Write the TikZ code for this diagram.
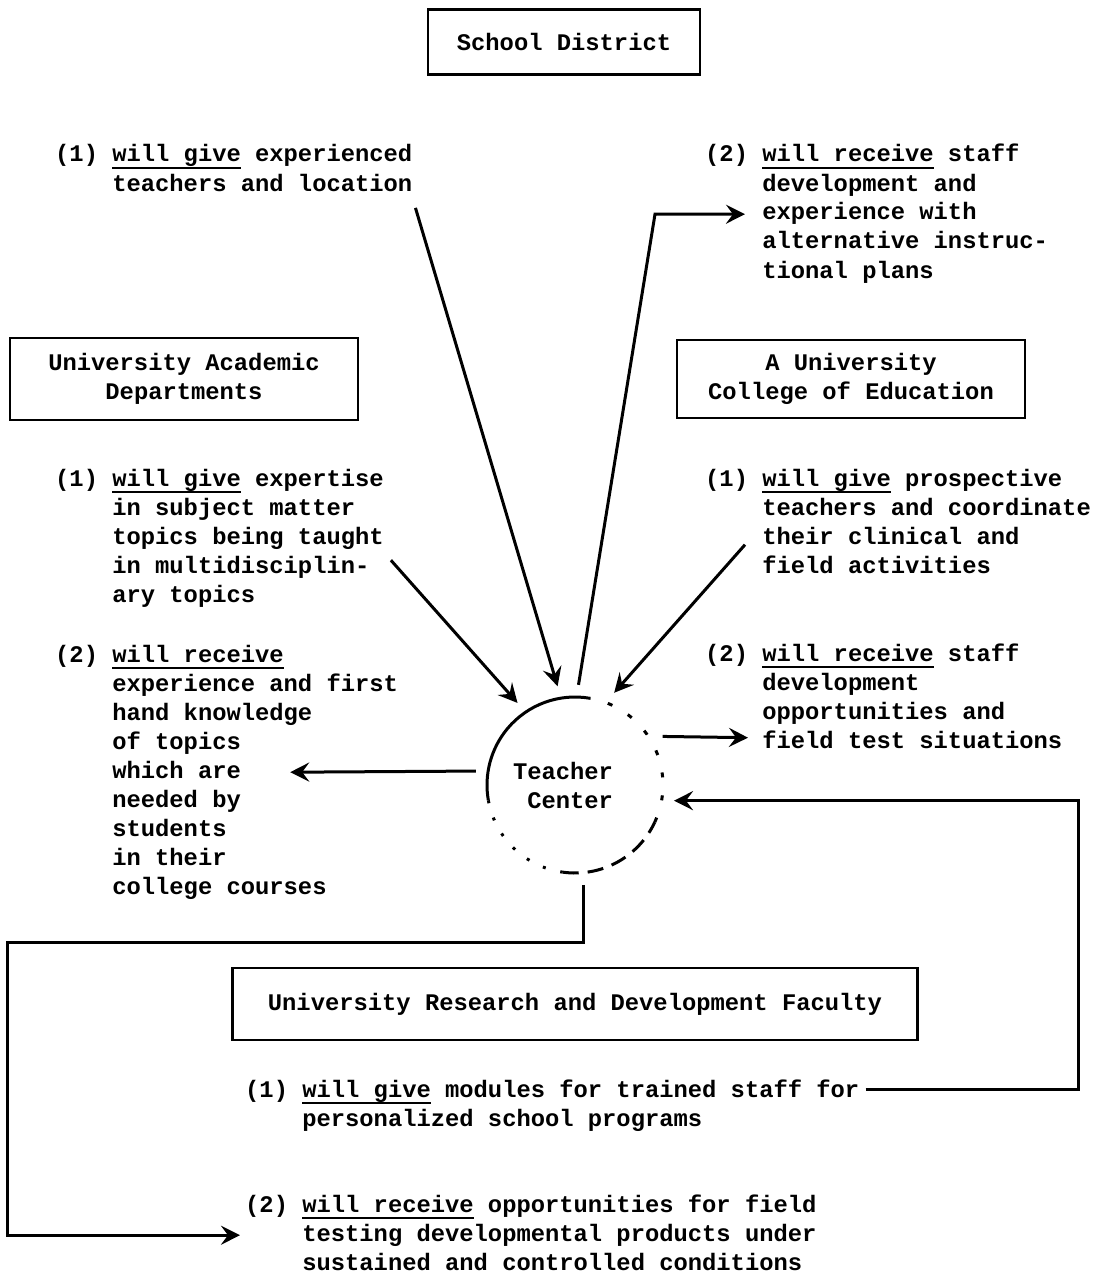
\documentclass[tikz,border=0pt]{standalone}
\usepackage{fontspec}
\setmainfont{Liberation Mono}
\usetikzlibrary{shapes,arrows,arrows.meta}

\newcommand{\ulin}[1]{\setbox0\hbox{#1}\rlap{\rule[-7pt]{\wd0}{2pt}}\box0}
\newcommand{\give}{\ulin{will give}}
\newcommand{\recv}{\ulin{will receive}}

\begin{document}
\begin{tikzpicture}[x=1pt,y=1pt,>={Stealth[length=19pt,width=19pt,inset=7pt]}]
		\tikzstyle{every node}=[font=\fontsize{23.8}{29}\selectfont\bfseries, inner sep=0pt];
		\tikzstyle{box}=[draw, line width=2.4pt, align=center];
		\tikzstyle{item}=[anchor=base west];
		\tikzstyle{link}=[line width=3pt];
		\useasboundingbox (0,0) rectangle (1102,-1276);

		% the four partners
		\node[box, minimum width=272pt, minimum height=65pt] (district) at (564,-42) {School District};
		\node[box, minimum width=348pt, minimum height=82pt] (deptbox) at (184,-379) {University Academic\\Departments};
		\node[box, minimum width=348pt, minimum height=78pt] (coebox) at (851,-379) {A University\\College of Education};
		\node[box, minimum width=685pt, minimum height=72pt] (rdbox) at (575,-1004) {University Research and Development Faculty};

		% what each one gives and receives
		\node[item] (sdgive) at (55,-162) {\begin{tabular}[t]{@{}l@{\ }l@{}}(1) & \give{} experienced\\ & teachers and location\end{tabular}};
		\node[item] (sdrecv) at (705,-162) {\begin{tabular}[t]{@{}l@{\ }l@{}}(2) & \recv{} staff\\ & development and\\ & experience with\\ & alternative instruc-\\ & tional plans\end{tabular}};
		\node[item] (adgive) at (55,-486) {\begin{tabular}[t]{@{}l@{\ }l@{}}(1) & \give{} expertise\\ & in subject matter\\ & topics being taught\\ & in multidisciplin-\\ & ary topics\end{tabular}};
		\node[item] (adrecv) at (55,-662) {\begin{tabular}[t]{@{}l@{\ }l@{}}(2) & \recv\\ & experience and first\\ & hand knowledge\\ & of topics\\ & which are\\ & needed by\\ & students\\ & in their\\ & college courses\end{tabular}};
		\node[item] (coegive) at (705,-486) {\begin{tabular}[t]{@{}l@{\ }l@{}}(1) & \give{} prospective\\ & teachers and coordinate\\ & their clinical and\\ & field activities\end{tabular}};
		\node[item] (coerecv) at (705,-661) {\begin{tabular}[t]{@{}l@{\ }l@{}}(2) & \recv{} staff\\ & development\\ & opportunities and\\ & field test situations\end{tabular}};
		\node[item] (rdgive) at (245,-1097) {\begin{tabular}[t]{@{}l@{\ }l@{}}(1) & \give{} modules for trained staff for\\ & personalized school programs\end{tabular}};
		\node[item] (rdrecv) at (245,-1212) {\begin{tabular}[t]{@{}l@{\ }l@{}}(2) & \recv{} opportunities for field\\ & testing developmental products under\\ & sustained and controlled conditions\end{tabular}};

		% teacher center
		\node[circle, minimum size=200pt, align=right] (tc) at (575,-785) {Teacher\hspace*{24pt}\\Center\hspace*{24pt}};
		\draw[link] ([shift={(80:88)}]tc.center) arc[start angle=80, end angle=190, radius=88];
		\draw[link, dash pattern=on 3pt off 15pt] ([shift={(190:88)}]tc.center) arc[start angle=190, end angle=262, radius=88];
		\draw[link, dash pattern=on 16pt off 9pt] ([shift={(262:88)}]tc.center) arc[start angle=262, end angle=335, radius=88];
		\draw[link, dash pattern=on 5pt off 18pt] ([shift={(335:88)}]tc.center) arc[start angle=335, end angle=440, radius=88];

		\draw[link,->] ([shift={(3,-8)}]sdgive.south east) -- (tc.100);
		\draw[link,->] (tc.88) -- ([xshift=-50]sdrecv.west) -- ([xshift=40]sdrecv.west);
		\draw[link,->] ([shift={(7,-22)}]adgive.east) -- (tc.125);
		\draw[link,->] (tc.172) -- ([xshift=-108]adrecv.east);
		\draw[link,->] ([shift={(40,-21)}]coegive.west) -- (tc.67);
		\draw[link,->] (tc.29) -- ([shift={(43,-39)}]coerecv.west);
		\draw[link,->] ([shift={(6,16)}]rdgive.east) -- ++(213,0) |- (tc.-9);
		\draw[link,->] (tc.-85) -- ++(0,-58) -- ++(-576,0) |- ([xshift=-5]rdrecv.west);
	\end{tikzpicture}
\end{document}
